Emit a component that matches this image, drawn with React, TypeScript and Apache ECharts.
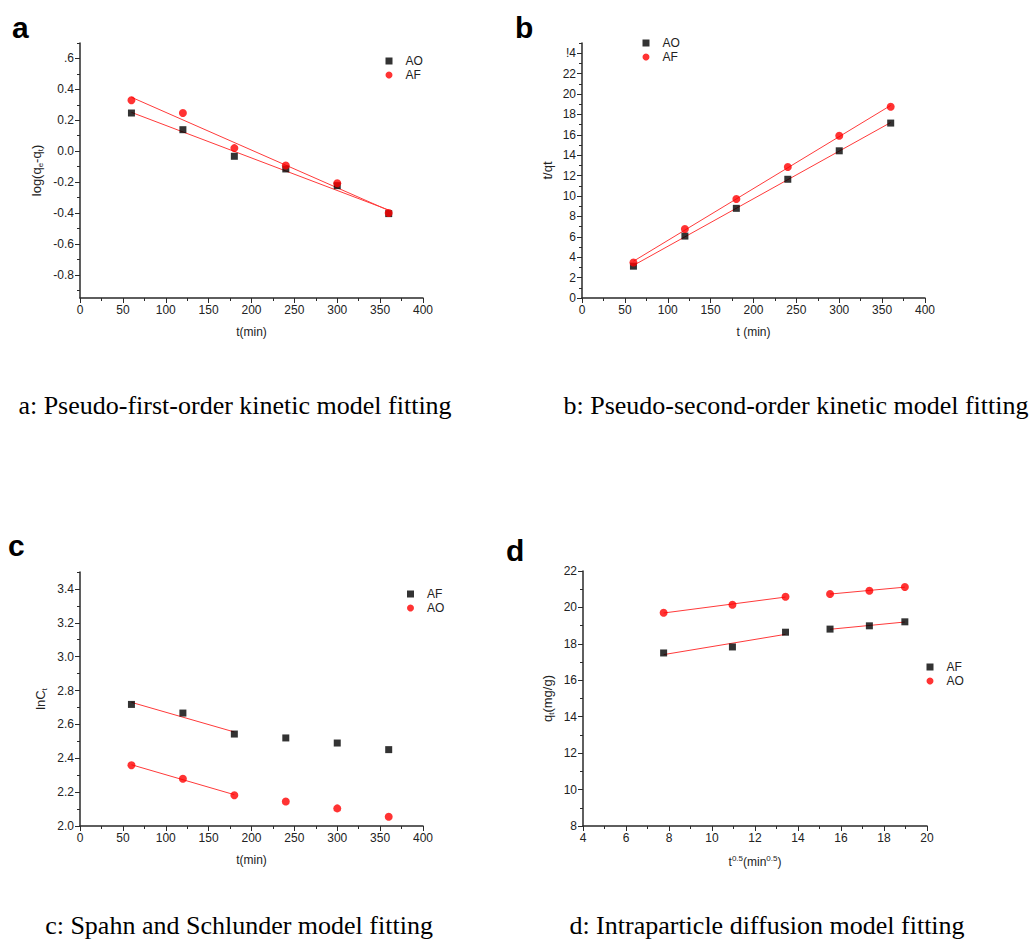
import React, { useEffect, useRef } from "react";
import * as echarts from "echarts";

// Contact times (min) shared by panels a–c
const timeMin = [60, 120, 180, 240, 300, 360];

// a: pseudo-first-order, log(qe - qt)
const aAO = [0.247, 0.139, -0.033, -0.115, -0.223, -0.404];
const aAF = [0.33, 0.247, 0.02, -0.093, -0.208, -0.4];

// b: pseudo-second-order, t/qt
const bAO = [3.12, 6.07, 8.79, 11.64, 14.43, 17.15];
const bAF = [3.48, 6.76, 9.71, 12.85, 15.9, 18.75];

// c: Spahn and Schlunder, lnCt
const cAF = [2.718, 2.667, 2.543, 2.52, 2.49, 2.451];
const cAO = [2.359, 2.279, 2.182, 2.145, 2.104, 2.055];

// d: intraparticle diffusion, qt vs t^0.5
const sqrtTime = [7.75, 10.95, 13.42, 15.49, 17.32, 18.97];
const dAF = [17.5, 17.83, 18.64, 18.81, 18.99, 19.21];
const dAO = [19.71, 20.15, 20.59, 20.74, 20.92, 21.12];

// Y tick values and their printed labels
const yTicksA = [-0.8, -0.6, -0.4, -0.2, 0, 0.2, 0.4, 0.6];
const yLabelsA = ["-0.8", "-0.6", "-0.4", "-0.2", "0.0", "0.2", "0.4", ".6"];
const yMinorA = [-0.9, -0.7, -0.5, -0.3, -0.1, 0.1, 0.3, 0.5, 0.7];

const yTicksB = [0, 2, 4, 6, 8, 10, 12, 14, 16, 18, 20, 22, 24];
const yLabelsB = ["0", "2", "4", "6", "8", "10", "12", "14", "16", "18", "20", "22", "!4"];
const yMinorB = [1, 3, 5, 7, 9, 11, 13, 15, 17, 19, 21, 23, 25];

const yTicksC = [2.0, 2.2, 2.4, 2.6, 2.8, 3.0, 3.2, 3.4];
const yLabelsC = ["2.0", "2.2", "2.4", "2.6", "2.8", "3.0", "3.2", "3.4"];
const yMinorC = [2.1, 2.3, 2.5, 2.7, 2.9, 3.1, 3.3, 3.5];

const yTicksD = [8, 10, 12, 14, 16, 18, 20, 22];
const yLabelsD = ["8", "10", "12", "14", "16", "18", "20", "22"];
const yMinorD = [9, 11, 13, 15, 17, 19, 21];

const SANS = "'Liberation Sans', Arial, sans-serif";
const SERIF = "'Liberation Serif', 'Times New Roman', serif";
const AXIS_COLOR = "#2a2a2a";
const RED = "#ff0000";
const FIT_RED = "#ff3a3a";

// Least-squares line through the points idx[0..], returned as its two end points
function fitLine(xs: number[], ys: number[], idx: number[]) {
  const px = idx.map((i) => xs[i]);
  const py = idx.map((i) => ys[i]);
  const n = px.length;
  const mx = px.reduce((s, v) => s + v, 0) / n;
  const my = py.reduce((s, v) => s + v, 0) / n;
  let sxy = 0;
  let sxx = 0;
  for (let i = 0; i < n; i++) {
    sxy += (px[i] - mx) * (py[i] - my);
    sxx += (px[i] - mx) * (px[i] - mx);
  }
  const k = sxy / sxx;
  const x0 = Math.min(...px);
  const x1 = Math.max(...px);
  return [
    [x0, my + k * (x0 - mx)],
    [x1, my + k * (x1 - mx)],
  ];
}

const pairs = (xs: number[], ys: number[]) => xs.map((x, i) => [x, ys[i]]);

const grids = [
  { left: 80, top: 43, width: 343, height: 255 },
  { left: 582, top: 43, width: 343, height: 255 },
  { left: 80, top: 572, width: 343, height: 254 },
  { left: 583, top: 571, width: 344, height: 255 },
];

function xAxisFor(gridIndex: number, min: number, max: number, interval: number, name: string, rich?: any) {
  return {
    type: "value",
    gridIndex,
    min,
    max,
    interval,
    name,
    nameLocation: "middle",
    nameGap: 28,
    nameTextStyle: { fontFamily: SANS, fontSize: 12, color: "#222", rich },
    axisLine: { show: true, onZero: false, lineStyle: { color: AXIS_COLOR, width: 1.5 } },
    axisTick: { show: true, length: 5, lineStyle: { color: AXIS_COLOR, width: 1 } },
    minorTick: { show: true, splitNumber: 2, length: 3, lineStyle: { color: AXIS_COLOR, width: 1 } },
    axisLabel: { fontFamily: SANS, fontSize: 12, color: "#222", margin: 6 },
    splitLine: { show: false },
  };
}

function yAxisFor(
  gridIndex: number,
  min: number,
  max: number,
  ticks: number[],
  labels: string[],
  name: string,
  nameGap: number,
  rich?: any
) {
  return {
    type: "value",
    gridIndex,
    min,
    max,
    name,
    nameLocation: "middle",
    nameRotate: 90,
    nameGap,
    nameTextStyle: { fontFamily: SANS, fontSize: 13, color: "#222", rich },
    axisLine: { show: true, onZero: false, lineStyle: { color: AXIS_COLOR, width: 1.5 } },
    axisTick: { show: true, length: 5, customValues: ticks, lineStyle: { color: AXIS_COLOR, width: 1 } },
    axisLabel: {
      fontFamily: SANS,
      fontSize: 12,
      color: "#222",
      margin: 6,
      customValues: ticks,
      formatter: (v: number) => {
        const i = ticks.findIndex((t) => Math.abs(t - v) < 1e-6);
        return i >= 0 ? labels[i] : "";
      },
    },
    splitLine: { show: false },
  };
}

// Overlay axis carrying only the short minor ticks
function minorYAxis(gridIndex: number, min: number, max: number, minors: number[]) {
  return {
    type: "value",
    gridIndex,
    min,
    max,
    position: "left",
    axisLine: { show: false, onZero: false },
    axisTick: { show: true, length: 3, customValues: minors, lineStyle: { color: AXIS_COLOR, width: 1 } },
    axisLabel: { show: false },
    splitLine: { show: false },
  };
}

function scatter(name: string, data: number[][], gi: number, shape: "square" | "circle") {
  return {
    type: "scatter",
    name,
    xAxisIndex: gi,
    yAxisIndex: gi,
    data,
    symbol: shape === "square" ? "rect" : "circle",
    symbolSize: shape === "square" ? 7 : 8,
    itemStyle: { color: shape === "square" ? "#000" : RED },
    z: 3,
  };
}

function fit(data: number[][], gi: number) {
  return {
    type: "line",
    name: "fit",
    xAxisIndex: gi,
    yAxisIndex: gi,
    data,
    symbol: "none",
    lineStyle: { color: FIT_RED, width: 1 },
    z: 2,
  };
}

function legendAt(left: number, top: number, first: [string, string], second: [string, string]) {
  const item = ([name, kind]: [string, string]) => ({
    name,
    icon: kind === "square" ? "rect" : "circle",
    itemStyle: { color: kind === "square" ? "#000" : RED },
  });
  return {
    left,
    top,
    padding: 0,
    orient: "vertical",
    itemWidth: 7,
    itemHeight: 7,
    itemGap: 2,
    selectedMode: false,
    data: [item(first), item(second)],
    textStyle: { fontFamily: SANS, fontSize: 12, color: "#222", padding: [0, 0, 0, 8] },
  };
}

const subRich = {
  sub: { fontFamily: SANS, fontSize: 8, color: "#222", padding: [7, 0, 0, 0] },
};
const supRich = {
  sup: { fontFamily: SANS, fontSize: 8, color: "#222", padding: [0, 0, 7, 0] },
};

export default function App() {
  const ref = useRef<HTMLDivElement>(null);

  useEffect(() => {
    if (!ref.current) return;
    const chart = echarts.init(ref.current, undefined, { renderer: "svg" });

    const letter = (text: string, x: number, y: number) => ({
      type: "text",
      left: x,
      top: y,
      style: { text, fontFamily: SANS, fontSize: 30, fontWeight: "bold", fill: "#000" },
    });
    const caption = (text: string, cx: number, cy: number) => ({
      type: "text",
      x: cx,
      y: cy,
      style: {
        text,
        fontFamily: SERIF,
        fontSize: 26,
        fill: "#000",
        align: "center",
        verticalAlign: "middle",
      },
    });

    chart.setOption({
      animation: false,
      backgroundColor: "#ffffff",
      grid: grids,
      xAxis: [
        xAxisFor(0, 0, 400, 50, "t(min)"),
        xAxisFor(1, 0, 400, 50, "t (min)"),
        xAxisFor(2, 0, 400, 50, "t(min)"),
        xAxisFor(3, 4, 20, 2, "t{sup|0.5}(min{sup|0.5})", supRich),
      ],
      yAxis: [
        yAxisFor(0, -0.95, 0.7, yTicksA, yLabelsA, "log(q{sub|e}-q{sub|t})", 36, subRich),
        yAxisFor(1, 0, 25, yTicksB, yLabelsB, "t/qt", 28),
        yAxisFor(2, 2.0, 3.5, yTicksC, yLabelsC, "lnC{sub|t}", 32, subRich),
        yAxisFor(3, 8, 22, yTicksD, yLabelsD, "q{sub|t}(mg/g)", 28, subRich),
        minorYAxis(0, -0.95, 0.7, yMinorA),
        minorYAxis(1, 0, 25, yMinorB),
        minorYAxis(2, 2.0, 3.5, yMinorC),
        minorYAxis(3, 8, 22, yMinorD),
      ],
      legend: [
        legendAt(385.5, 55, ["AO", "square"], ["AF", "circle"]),
        legendAt(642.5, 37, ["AO", "square"], ["AF", "circle"]),
        legendAt(407, 588, ["AF", "square"], ["AO", "circle"]),
        legendAt(926.5, 661, ["AF", "square"], ["AO", "circle"]),
      ],
      series: [
        // a
        fit(fitLine(timeMin, aAO, [0, 1, 2, 3, 4, 5]), 0),
        fit(fitLine(timeMin, aAF, [0, 1, 2, 3, 4, 5]), 0),
        scatter("AO", pairs(timeMin, aAO), 0, "square"),
        scatter("AF", pairs(timeMin, aAF), 0, "circle"),
        // b
        fit(fitLine(timeMin, bAO, [0, 1, 2, 3, 4, 5]), 1),
        fit(fitLine(timeMin, bAF, [0, 1, 2, 3, 4, 5]), 1),
        scatter("AO", pairs(timeMin, bAO), 1, "square"),
        scatter("AF", pairs(timeMin, bAF), 1, "circle"),
        // c: fits over the first three points
        fit(fitLine(timeMin, cAF, [0, 1, 2]), 2),
        fit(fitLine(timeMin, cAO, [0, 1, 2]), 2),
        scatter("AF", pairs(timeMin, cAF), 2, "square"),
        scatter("AO", pairs(timeMin, cAO), 2, "circle"),
        // d: two linear stages
        fit(fitLine(sqrtTime, dAF, [0, 1, 2]), 3),
        fit(fitLine(sqrtTime, dAF, [3, 4, 5]), 3),
        fit(fitLine(sqrtTime, dAO, [0, 1, 2]), 3),
        fit(fitLine(sqrtTime, dAO, [3, 4, 5]), 3),
        scatter("AF", pairs(sqrtTime, dAF), 3, "square"),
        scatter("AO", pairs(sqrtTime, dAO), 3, "circle"),
      ],
      graphic: [
        letter("a", 12, 12),
        letter("b", 515, 12),
        letter("c", 8, 530),
        letter("d", 506, 535),
        caption("a: Pseudo-first-order kinetic model fitting", 235, 405),
        caption("b: Pseudo-second-order kinetic model fitting", 796, 405),
        caption("c: Spahn and Schlunder model fitting", 239, 925),
        caption("d: Intraparticle diffusion model fitting", 767, 925),
      ],
    });

    return () => chart.dispose();
  }, []);

  return (
    <div
      ref={ref}
      style={{ position: "absolute", left: 0, top: 0, width: 1034, height: 949, background: "#fff" }}
    />
  );
}
